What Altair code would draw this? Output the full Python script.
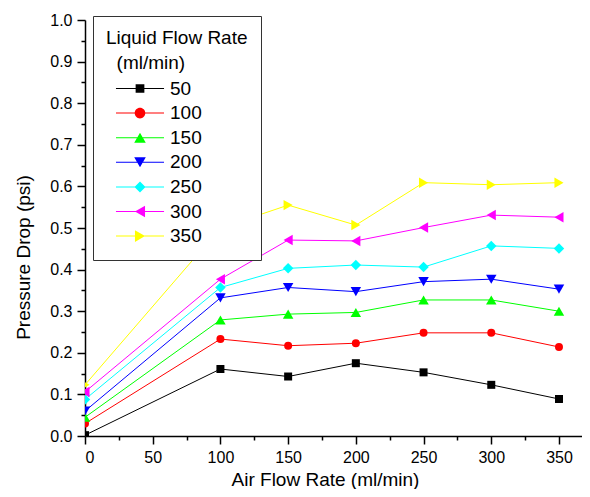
import altair as alt
import pandas as pd

# ---- data ----
air_flow = [0, 100, 150, 200, 250, 300, 350]
liquid_rates = ["50", "100", "150", "200", "250", "300", "350"]
dp_50 = [0.002, 0.161, 0.143, 0.175, 0.153, 0.123, 0.089]
dp_100 = [0.030, 0.233, 0.217, 0.223, 0.248, 0.248, 0.214]
dp_150 = [0.045, 0.279, 0.293, 0.297, 0.327, 0.327, 0.300]
dp_200 = [0.060, 0.332, 0.357, 0.347, 0.371, 0.377, 0.353]
dp_250 = [0.088, 0.357, 0.403, 0.411, 0.406, 0.457, 0.451]
dp_300 = [0.106, 0.377, 0.471, 0.469, 0.501, 0.531, 0.526]
dp_350 = [0.123, 0.500, 0.555, 0.507, 0.609, 0.604, 0.609]
series = [dp_50, dp_100, dp_150, dp_200, dp_250, dp_300, dp_350]

x_major_ticks = [0, 50, 100, 150, 200, 250, 300, 350]
x_minor_ticks = [25, 75, 125, 175, 225, 275, 325]
y_major_ticks = [0.0, 0.1, 0.2, 0.3, 0.4, 0.5, 0.6, 0.7, 0.8, 0.9, 1.0]
y_minor_ticks = [0.05, 0.15, 0.25, 0.35, 0.45, 0.55, 0.65, 0.75, 0.85, 0.95]

# ---- styles ----
colors = ["#000000", "#ff0000", "#00ff00", "#0000ff", "#00ffff", "#ff00ff", "#ffff00"]
shapes = ["square", "circle", "triangle-up", "triangle-down", "diamond",
          "triangle-left", "triangle-right"]
sizes = [64, 64, 110, 110, 110, 110, 110]
# legend glyphs: a horizontal line with the marker on it (unit = 9.5 px)
LINE = "M-2.53,-0.053H2.53V0.053H-2.53Z"
legend_paths = [
    LINE + "M-0.46,-0.46H0.46V0.46H-0.46Z",
    LINE + "M-0.56,0A0.56,0.56,0,1,1,0.56,0A0.56,0.56,0,1,1,-0.56,0Z",
    LINE + "M0,-0.53L0.61,0.53L-0.61,0.53Z",
    LINE + "M-0.61,-0.53L0.61,-0.53L0,0.53Z",
    LINE + "M0,-0.58L0.58,0L0,0.58L-0.58,0Z",
    LINE + "M-0.53,0L0.53,-0.61L0.53,0.61Z",
    LINE + "M0.53,0L-0.53,0.61L-0.53,-0.61Z",
]
FONT = "Liberation Sans"

rows = []
for name, vals in zip(liquid_rates, series):
    for a, v in zip(air_flow, vals):
        rows.append({"liquid": name, "air": a, "dp": v})
df = pd.DataFrame(rows)

x_scale = alt.Scale(domain=[0, 367], nice=False, zero=False)
y_scale = alt.Scale(domain=[0, 1], nice=False)
color_scale = alt.Scale(domain=liquid_rates, range=colors)

x_major = alt.Axis(values=x_major_ticks, format="d", tickSize=8, orient="bottom",
                   title="Air Flow Rate (ml/min)", titleX=240, titleY=49,
                   titleAlign="center", titleBaseline="alphabetic")
y_major = alt.Axis(values=y_major_ticks, format=".1f", tickSize=8, orient="left",
                   title="Pressure Drop (psi)", titleX=-62, titleY=237, titleAngle=270,
                   titleAlign="center", titleBaseline="middle")
x_minor = alt.Axis(values=x_minor_ticks, labels=False, domain=False, tickSize=4,
                   orient="bottom", title=None)
y_minor = alt.Axis(values=y_minor_ticks, labels=False, domain=False, tickSize=4,
                   orient="left", title=None)

base = alt.Chart(df)

lines = base.mark_line(clip=True, strokeWidth=1).encode(
    x=alt.X("air:Q", scale=x_scale, axis=x_major),
    y=alt.Y("dp:Q", scale=y_scale, axis=y_major),
    color=alt.Color("liquid:N", scale=color_scale, legend=None),
)

points = base.mark_point(filled=True, clip=True, opacity=1).encode(
    x=alt.X("air:Q", scale=x_scale, axis=x_minor),
    y=alt.Y("dp:Q", scale=y_scale, axis=y_minor),
    color=alt.Color("liquid:N", scale=color_scale, legend=None),
    shape=alt.Shape("liquid:N", scale=alt.Scale(domain=liquid_rates, range=shapes), legend=None),
    size=alt.Size("liquid:N", scale=alt.Scale(type="ordinal", domain=liquid_rates, range=sizes),
                  legend=None),
)

leg = alt.Legend(
    title=["Liquid Flow Rate", "\u200b\u2007(ml/min)"],
    orient="none", legendX=8, legendY=-4, direction="vertical",
    fillColor="white", strokeColor="#333333", padding=13, cornerRadius=0,
    titleFont=FONT, titleFontSize=19, titleFontWeight="normal", titleColor="black",
    titleLineHeight=25, titlePadding=6,
    labelFont=FONT, labelFontSize=19, labelColor="black", labelOffset=20.5,
    symbolOffset=24.5, symbolSize=361, symbolStrokeWidth=0, rowPadding=4.6,
)

legend_layer = base.transform_filter("false").mark_point(filled=True, opacity=1, size=361).encode(
    x=alt.X("air:Q", scale=x_scale, axis=None),
    y=alt.Y("dp:Q", scale=y_scale, axis=None),
    color=alt.Color("liquid:N", scale=color_scale, legend=leg),
    shape=alt.Shape("liquid:N", scale=alt.Scale(domain=liquid_rates, range=legend_paths), legend=leg),
)

chart = alt.layer(lines, points, legend_layer).resolve_scale(
    color="independent", shape="independent"
).resolve_axis(
    x="independent", y="independent"
).properties(
    width=497, height=416,
    autosize=alt.AutoSizeParams(type="none"),
    padding={"left": 77, "top": 12, "right": 0, "bottom": 53},
    background="white",
).configure_view(
    strokeWidth=0
).configure_axis(
    grid=False, domainColor="black", domainWidth=1.5, tickColor="black", tickWidth=1.5,
    labelFont=FONT, labelFontSize=16, labelColor="black", labelPadding=5,
    titleFont=FONT, titleFontSize=19, titleFontWeight="normal", titleColor="black",
)

chart.save("out.html", embed_options={"renderer": "svg", "actions": False})
